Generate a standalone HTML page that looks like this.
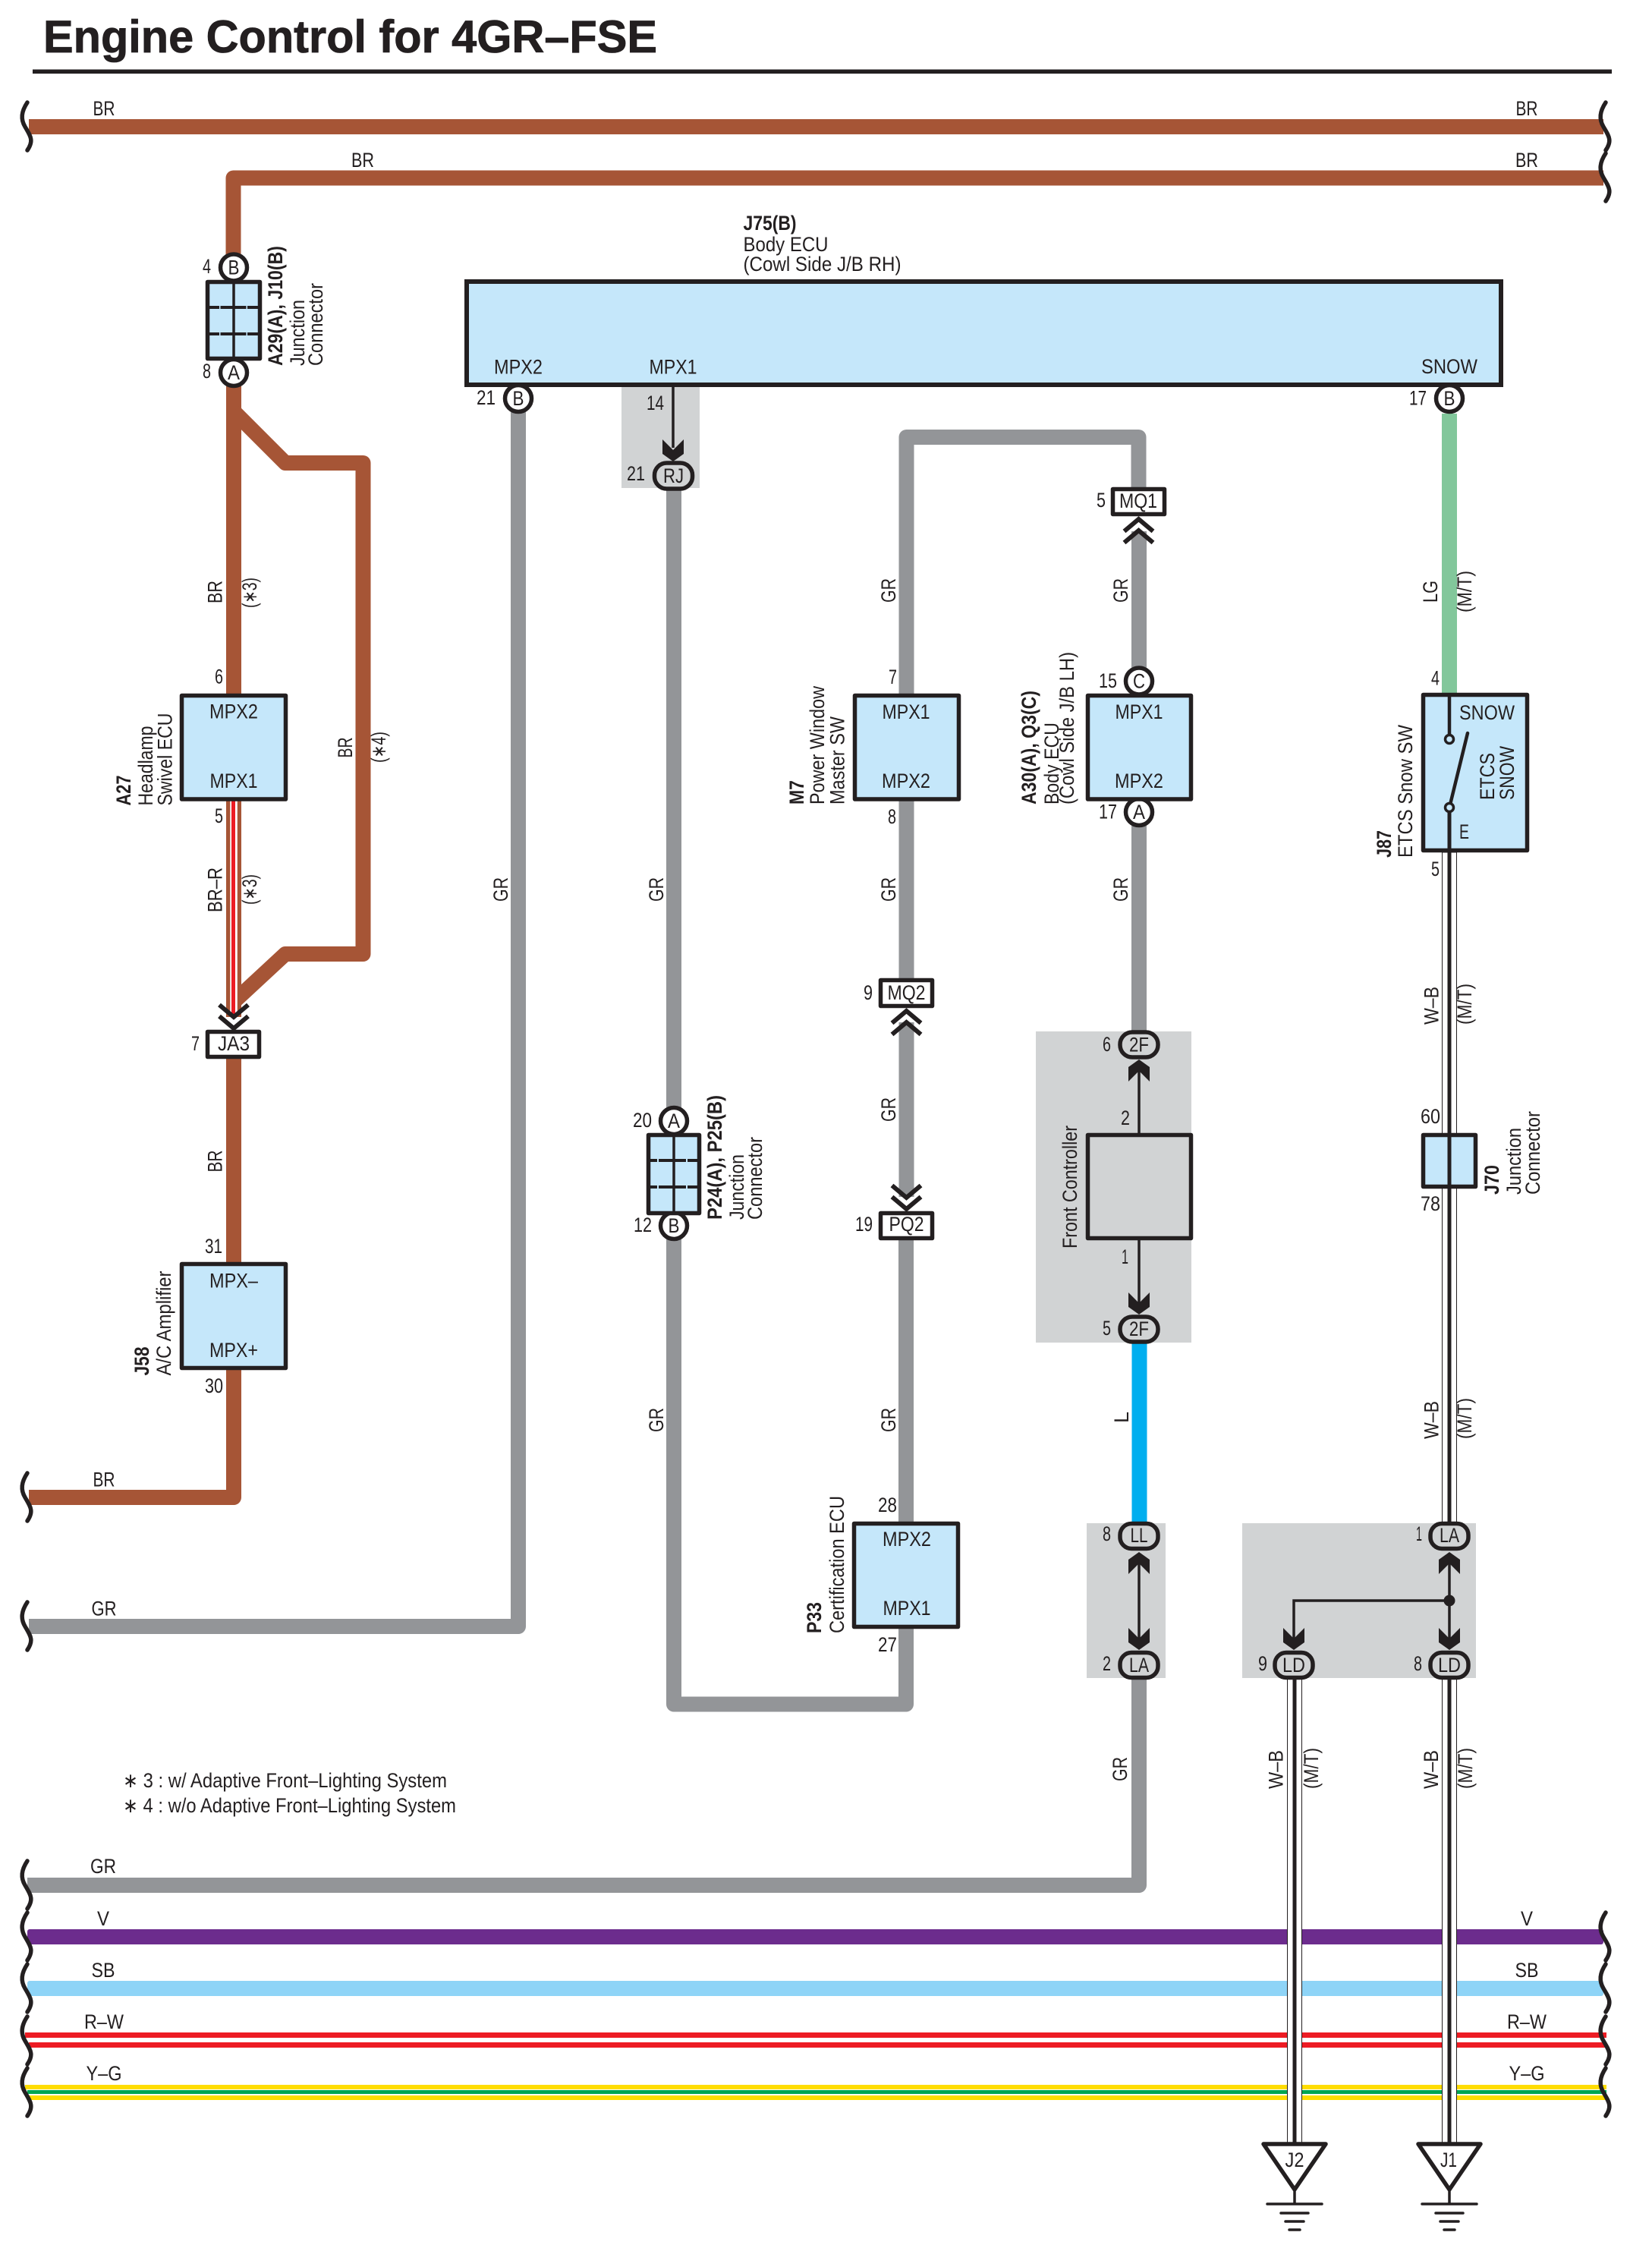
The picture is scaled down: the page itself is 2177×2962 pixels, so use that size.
<!DOCTYPE html>
<html lang="en">
<head>
<meta charset="utf-8">
<title>Engine Control for 4GR–FSE</title>
<style>
html,body{margin:0;padding:0;background:#fff}
svg{display:block}
text{font-family:"Liberation Sans",sans-serif;font-size:26.5px;fill:#231f20}
.b{font-weight:bold}
.m{text-anchor:middle}
.w{fill:none;stroke-width:20;stroke-linejoin:round}
.br{stroke:#a65536}.gr{stroke:#939598}
.box{fill:#c5e7fa;stroke:#231f20;stroke-width:5.5;stroke-linejoin:round}
.wb{fill:#fff;stroke:#231f20;stroke-width:5.5;stroke-linejoin:round}
.ov{fill:#d1d3d4;stroke:#231f20;stroke-width:5.5}
.k{fill:none;stroke:#231f20;stroke-linecap:round}
</style>
</head>
<body>
<svg xmlns="http://www.w3.org/2000/svg" width="2177" height="2962" viewBox="0 0 2177 2962">
<defs>
<path id="brk" d="M0 0C-8 12-9 22-3 32C4 44 9 50 0 63" fill="none" stroke="#231f20" stroke-width="5.5" stroke-linecap="round"/>
<polygon id="ad" points="-14,-29 0,-15 14,-29 14,-10 0,0 -14,-10" fill="#231f20"/>
<polygon id="au" points="-14,29 0,15 14,29 14,10 0,0 -14,10" fill="#231f20"/>
<g id="chd" fill="none" stroke="#231f20" stroke-width="6"><path d="M-19 -31L0 -15L19 -31"/><path d="M-19 -16L0 0L19 -16"/></g>
<g id="chu" fill="none" stroke="#231f20" stroke-width="6"><path d="M-19 31L0 15L19 31"/><path d="M-19 16L0 0L19 16"/></g>
<g id="gnd" stroke="#231f20" fill="none">
<polygon points="-41,2 41,2 0,62" fill="none" stroke-width="5.5" stroke-linejoin="round"/>
<path d="M0 62V81" stroke-width="3.5"/>
<path d="M-36 81H36M-18 93H18M-12 104H12M-7 115H7" stroke-width="3.5" stroke-linecap="round"/>
</g>
</defs>

<!-- Title -->
<text x="57" y="69" class="b" style="font-size:60px;stroke:#231f20;stroke-width:0.8" textLength="809" lengthAdjust="spacingAndGlyphs">Engine Control for 4GR–FSE</text>
<rect x="43" y="91.5" width="2081" height="5.5" fill="#231f20"/>

<!-- gray shaded areas -->
<rect x="819" y="510" width="103" height="133" fill="#d1d3d4"/>
<rect x="1365" y="1359" width="205" height="410" fill="#d1d3d4"/>
<rect x="1432" y="2007" width="104" height="204" fill="#d1d3d4"/>
<rect x="1637" y="2007" width="308" height="204" fill="#d1d3d4"/>

<!-- BR wires -->
<path class="w br" d="M38 167H2113"/>
<path class="w br" d="M2113 234.5H307.5V340"/>
<path class="w br" d="M308 480V914"/>
<path class="w br" d="M308 542L376 610H478.5V1257H376L308 1320"/>
<rect x="298" y="1050" width="20" height="290" fill="#a65536"/>
<rect x="303.3" y="1050" width="9.5" height="290" fill="#fff"/>
<rect x="305" y="1050" width="5" height="290" fill="#ed1c24"/>
<path class="w br" d="M308 1395V1663"/>
<path class="w br" d="M308 1805V1973H38"/>

<!-- GR wires -->
<path class="w gr" d="M683 540V2143H38"/>
<path class="w gr" d="M888 645V1480"/>
<path class="w gr" d="M1194 2146V2245.5H888V1630"/>
<path class="w gr" d="M1500.5 645V576H1194.5V914"/>
<path class="w gr" d="M1194.5 1055V1290"/>
<path class="w gr" d="M1194.5 1347V1577"/>
<path class="w gr" d="M1194 1634V2006"/>
<path class="w gr" d="M1501 700V900"/>
<path class="w gr" d="M1501 1070V1360"/>
<rect x="1491.5" y="1770" width="20" height="237" fill="#00aeef"/>
<path class="w gr" d="M1501 2212V2484H36"/>
<rect x="1900" y="545" width="20" height="369" fill="#82c79b"/>

<!-- Buses -->
<rect x="36" y="2542" width="2077" height="20" rx="3" fill="#6c2c8d"/>
<rect x="36" y="2610" width="2077" height="20" rx="3" fill="#8ed4f7"/>
<rect x="33" y="2678" width="2084" height="7" fill="#ed1c24"/>
<rect x="38" y="2691" width="2079" height="7" fill="#ed1c24"/>
<rect x="33" y="2747" width="2084" height="6" fill="#ffdd00"/>
<rect x="36" y="2754" width="2081" height="5" fill="#00a651"/>
<rect x="38" y="2761" width="2079" height="6" fill="#ffdd00"/>

<!-- break marks -->
<use href="#brk" x="36" y="135"/><use href="#brk" x="36" y="1941"/><use href="#brk" x="36" y="2111"/>
<use href="#brk" x="36" y="2452"/><use href="#brk" x="36" y="2520"/><use href="#brk" x="36" y="2588"/><use href="#brk" x="36" y="2657"/><use href="#brk" x="36" y="2725"/>
<use href="#brk" x="2116" y="135"/><use href="#brk" x="2116" y="202"/>
<use href="#brk" x="2116" y="2520"/><use href="#brk" x="2116" y="2588"/><use href="#brk" x="2116" y="2657"/><use href="#brk" x="2116" y="2725"/>

<!-- W-B wires -->
<g>
<rect x="1900.5" y="1123" width="19" height="890" fill="#fff" stroke="#231f20" stroke-width="1"/>
<rect x="1907.5" y="1123" width="5" height="890" fill="#231f20"/>
<rect x="1900.5" y="2205" width="19" height="618" fill="#fff" stroke="#231f20" stroke-width="1"/>
<rect x="1907.5" y="2205" width="5" height="618" fill="#231f20"/>
<rect x="1696.5" y="2205" width="19" height="618" fill="#fff" stroke="#231f20" stroke-width="1"/>
<rect x="1703.5" y="2205" width="5" height="618" fill="#231f20"/>
</g>

<!-- Grounds -->
<use href="#gnd" x="1706" y="2823"/>
<use href="#gnd" x="1910" y="2823"/>
<text x="1706" y="2855" class="m" textLength="25" lengthAdjust="spacingAndGlyphs">J2</text>
<text x="1909" y="2855" class="m" textLength="22" lengthAdjust="spacingAndGlyphs">J1</text>

<!-- ECU J75 -->
<rect x="615" y="371" width="1363" height="136" fill="#c5e7fa" stroke="#231f20" stroke-width="6"/>
<text x="683" y="492.5" class="m" textLength="64" lengthAdjust="spacingAndGlyphs">MPX2</text>
<text x="887" y="492.5" class="m" textLength="63" lengthAdjust="spacingAndGlyphs">MPX1</text>
<text x="1910" y="492" class="m" textLength="74" lengthAdjust="spacingAndGlyphs">SNOW</text>
<text x="979.5" y="303" class="b" textLength="70" lengthAdjust="spacingAndGlyphs">J75(B)</text>
<text x="979.5" y="331" textLength="112" lengthAdjust="spacingAndGlyphs">Body ECU</text>
<text x="979.5" y="357" textLength="208" lengthAdjust="spacingAndGlyphs">(Cowl Side J/B RH)</text>

<!-- Circle connectors -->
<g fill="#fff" stroke="#231f20" stroke-width="5.5">
<circle cx="308" cy="352.5" r="17.5"/><circle cx="308" cy="491" r="17.5"/>
<circle cx="683" cy="525" r="17.5"/><circle cx="1910" cy="525" r="17.5"/>
<circle cx="888" cy="1477" r="17.5"/><circle cx="888" cy="1615" r="17.5"/>
<circle cx="1501" cy="897.5" r="17.5"/><circle cx="1501" cy="1070" r="17.5"/>
</g>
<text x="308" y="361.5" class="m" textLength="15" lengthAdjust="spacingAndGlyphs">B</text><text x="308" y="500" class="m" textLength="16" lengthAdjust="spacingAndGlyphs">A</text>
<text x="683" y="534" class="m" textLength="15" lengthAdjust="spacingAndGlyphs">B</text><text x="1910" y="534" class="m" textLength="15" lengthAdjust="spacingAndGlyphs">B</text>
<text x="888" y="1486" class="m" textLength="16" lengthAdjust="spacingAndGlyphs">A</text><text x="888" y="1624" class="m" textLength="15" lengthAdjust="spacingAndGlyphs">B</text>
<text x="1501" y="906.5" class="m" textLength="16" lengthAdjust="spacingAndGlyphs">C</text><text x="1501" y="1079" class="m" textLength="16" lengthAdjust="spacingAndGlyphs">A</text>

<!-- Junction P24/A29 -->
<rect x="273.5" y="371.5" width="69" height="101" class="box"/>
<path d="M308 371V473" stroke="#231f20" stroke-width="3.5"/>
<path d="M273 405H344M273 440H344" stroke="#231f20" stroke-width="4" stroke-dasharray="16 1.5 34 1.5 20"/>
<rect x="854.5" y="1495.5" width="67" height="103" class="box"/>
<path d="M888 1495V1600" stroke="#231f20" stroke-width="3.5"/>
<path d="M854 1529H922M854 1564H922" stroke="#231f20" stroke-width="4" stroke-dasharray="12 2 36 2 20"/>

<!-- Boxes -->
<rect x="239.5" y="916.5" width="137" height="136.5" class="box"/>
<rect x="239.5" y="1665.5" width="137" height="137" class="box"/>
<rect x="1126.5" y="916.5" width="137" height="136.5" class="box"/>
<rect x="1433.5" y="916.5" width="136" height="136.5" class="box"/>
<rect x="1125.5" y="2007.5" width="137" height="136" class="box"/>
<rect x="1433.5" y="1495.5" width="136" height="136" fill="#d1d3d4" stroke="#231f20" stroke-width="5.5" stroke-linejoin="round"/>
<rect x="1875.5" y="915.5" width="137" height="205" class="box"/>
<rect x="1875.5" y="1495.5" width="69" height="68" class="box"/>
<path d="M1910 1493V1566" stroke="#231f20" stroke-width="5"/>
<text x="308" y="946.5" class="m" textLength="64" lengthAdjust="spacingAndGlyphs">MPX2</text>
<text x="308" y="1038" class="m" textLength="63" lengthAdjust="spacingAndGlyphs">MPX1</text>
<text x="308" y="1696.5" class="m" textLength="64" lengthAdjust="spacingAndGlyphs">MPX–</text>
<text x="308" y="1788" class="m" textLength="64" lengthAdjust="spacingAndGlyphs">MPX+</text>
<text x="1194" y="947" class="m" textLength="63" lengthAdjust="spacingAndGlyphs">MPX1</text>
<text x="1194" y="1038" class="m" textLength="64" lengthAdjust="spacingAndGlyphs">MPX2</text>
<text x="1501" y="947" class="m" textLength="63" lengthAdjust="spacingAndGlyphs">MPX1</text>
<text x="1501" y="1038" class="m" textLength="64" lengthAdjust="spacingAndGlyphs">MPX2</text>
<text x="1195" y="2037" class="m" textLength="64" lengthAdjust="spacingAndGlyphs">MPX2</text>
<text x="1195" y="2128" class="m" textLength="63" lengthAdjust="spacingAndGlyphs">MPX1</text>

<!-- Switch -->
<path d="M1910 916V968" stroke="#231f20" stroke-width="4.5"/>
<path d="M1910 1070V1123" stroke="#231f20" stroke-width="5"/>
<path d="M1934 966L1911 1060" stroke="#231f20" stroke-width="4.5" stroke-linecap="round"/>
<circle cx="1910" cy="974" r="5.5" fill="#c5e7fa" stroke="#231f20" stroke-width="3.5"/>
<circle cx="1910" cy="1064" r="5.5" fill="#c5e7fa" stroke="#231f20" stroke-width="3.5"/>
<text x="1959.5" y="948" class="m" textLength="73" lengthAdjust="spacingAndGlyphs">SNOW</text>
<text x="1923" y="1105" textLength="13" lengthAdjust="spacingAndGlyphs">E</text>
<text transform="translate(1969,1054) rotate(-90)" textLength="62" lengthAdjust="spacingAndGlyphs">ETCS</text>
<text transform="translate(1995,1054) rotate(-90)" textLength="71" lengthAdjust="spacingAndGlyphs">SNOW</text>

<!-- Rectangular connectors -->
<rect x="273.5" y="1359.5" width="68" height="33" class="wb"/>
<rect x="1466.5" y="644.5" width="68" height="33" class="wb"/>
<rect x="1160.5" y="1291.5" width="68" height="34" class="wb"/>
<rect x="1160.5" y="1598.5" width="68" height="33" class="wb"/>
<text x="308" y="1384" class="m" textLength="42" lengthAdjust="spacingAndGlyphs">JA3</text>
<text x="1500" y="669" class="m" textLength="50" lengthAdjust="spacingAndGlyphs">MQ1</text>
<text x="1194.5" y="1317" class="m" textLength="50" lengthAdjust="spacingAndGlyphs">MQ2</text>
<text x="1194.5" y="1622" class="m" textLength="46" lengthAdjust="spacingAndGlyphs">PQ2</text>
<use href="#chd" x="308" y="1355"/>
<use href="#chu" x="1500.5" y="684"/>
<use href="#chu" x="1194.5" y="1332"/>
<use href="#chd" x="1194.5" y="1593"/>

<!-- Thin inline connections -->
<g stroke="#231f20" stroke-width="3.5" fill="none">
<path d="M887 510V590"/>
<path d="M1501 1410V1494"/>
<path d="M1501 1633V1720"/>
<path d="M1501 2060V2160"/>
<path d="M1910 2060V2160"/>
<path d="M1705 2160V2109H1910"/>
</g>
<ellipse cx="1910" cy="2109" rx="7.5" ry="7.5" fill="#231f20"/>
<use href="#ad" x="887" y="608"/>
<use href="#au" x="1501" y="1396"/>
<use href="#ad" x="1501" y="1732"/>
<use href="#au" x="1501" y="2045"/>
<use href="#ad" x="1501" y="2174"/>
<use href="#au" x="1910" y="2045"/>
<use href="#ad" x="1705" y="2174"/>
<use href="#ad" x="1910" y="2174"/>

<!-- Oval connectors -->
<rect x="862.5" y="610" width="50" height="34" rx="16" class="ov"/>
<rect x="1476" y="1360" width="50" height="33" rx="16" class="ov"/>
<rect x="1476" y="1735" width="50" height="33" rx="16" class="ov"/>
<rect x="1476" y="2007.5" width="50" height="33" rx="15" class="ov"/>
<rect x="1476" y="2177.5" width="50" height="33" rx="15" class="ov"/>
<rect x="1885" y="2007.5" width="50" height="33" rx="15" class="ov"/>
<rect x="1680" y="2177.5" width="50" height="33" rx="15" class="ov"/>
<rect x="1885" y="2177.5" width="50" height="33" rx="15" class="ov"/>
<text x="887.5" y="636" class="m" textLength="27" lengthAdjust="spacingAndGlyphs">RJ</text>
<text x="1501" y="1385.5" class="m" textLength="26" lengthAdjust="spacingAndGlyphs">2F</text>
<text x="1501" y="1760" class="m" textLength="26" lengthAdjust="spacingAndGlyphs">2F</text>
<text x="1501" y="2032" class="m" textLength="23" lengthAdjust="spacingAndGlyphs">LL</text>
<text x="1501" y="2203" class="m" textLength="26" lengthAdjust="spacingAndGlyphs">LA</text>
<text x="1910" y="2032" class="m" textLength="26" lengthAdjust="spacingAndGlyphs">LA</text>
<text x="1705" y="2203" class="m" textLength="30" lengthAdjust="spacingAndGlyphs">LD</text>
<text x="1910" y="2203" class="m" textLength="30" lengthAdjust="spacingAndGlyphs">LD</text>

<!-- Pin numbers -->
<g>
<text x="267" y="360" textLength="11" lengthAdjust="spacingAndGlyphs">4</text>
<text x="267" y="498" textLength="11" lengthAdjust="spacingAndGlyphs">8</text>
<text x="628" y="533" textLength="25" lengthAdjust="spacingAndGlyphs">21</text>
<text x="852" y="540" textLength="23" lengthAdjust="spacingAndGlyphs">14</text>
<text x="826" y="633" textLength="24" lengthAdjust="spacingAndGlyphs">21</text>
<text x="1445" y="668" textLength="12" lengthAdjust="spacingAndGlyphs">5</text>
<text x="1857" y="533.5" textLength="23" lengthAdjust="spacingAndGlyphs">17</text>
<text x="1886" y="902.5" textLength="11" lengthAdjust="spacingAndGlyphs">4</text>
<text x="1886" y="1154" textLength="11" lengthAdjust="spacingAndGlyphs">5</text>
<text x="283" y="900.5" textLength="11" lengthAdjust="spacingAndGlyphs">6</text>
<text x="283" y="1084" textLength="11" lengthAdjust="spacingAndGlyphs">5</text>
<text x="252" y="1384" textLength="11" lengthAdjust="spacingAndGlyphs">7</text>
<text x="270" y="1651" textLength="23" lengthAdjust="spacingAndGlyphs">31</text>
<text x="270" y="1835" textLength="24" lengthAdjust="spacingAndGlyphs">30</text>
<text x="1171" y="901" textLength="11" lengthAdjust="spacingAndGlyphs">7</text>
<text x="1170" y="1085" textLength="11" lengthAdjust="spacingAndGlyphs">8</text>
<text x="1138" y="1317" textLength="12" lengthAdjust="spacingAndGlyphs">9</text>
<text x="1127" y="1622" textLength="23" lengthAdjust="spacingAndGlyphs">19</text>
<text x="1157" y="1992" textLength="25" lengthAdjust="spacingAndGlyphs">28</text>
<text x="1157" y="2176" textLength="25" lengthAdjust="spacingAndGlyphs">27</text>
<text x="1448" y="906" textLength="24" lengthAdjust="spacingAndGlyphs">15</text>
<text x="1448" y="1078.5" textLength="24" lengthAdjust="spacingAndGlyphs">17</text>
<text x="1453" y="1385" textLength="11" lengthAdjust="spacingAndGlyphs">6</text>
<text x="1477" y="1482" textLength="12" lengthAdjust="spacingAndGlyphs">2</text>
<text x="1478" y="1665" textLength="9" lengthAdjust="spacingAndGlyphs">1</text>
<text x="1453" y="1759" textLength="11" lengthAdjust="spacingAndGlyphs">5</text>
<text x="1453" y="2030" textLength="11" lengthAdjust="spacingAndGlyphs">8</text>
<text x="1453" y="2201" textLength="11" lengthAdjust="spacingAndGlyphs">2</text>
<text x="1866" y="2030" textLength="8" lengthAdjust="spacingAndGlyphs">1</text>
<text x="1658" y="2201" textLength="12" lengthAdjust="spacingAndGlyphs">9</text>
<text x="1863" y="2201" textLength="11" lengthAdjust="spacingAndGlyphs">8</text>
<text x="834" y="1485" textLength="25" lengthAdjust="spacingAndGlyphs">20</text>
<text x="835" y="1623" textLength="24" lengthAdjust="spacingAndGlyphs">12</text>
<text x="1872" y="1480" textLength="26" lengthAdjust="spacingAndGlyphs">60</text>
<text x="1872" y="1595" textLength="26" lengthAdjust="spacingAndGlyphs">78</text>
</g>

<!-- Horizontal wire labels -->
<g>
<text x="137" y="152" class="m" textLength="29" lengthAdjust="spacingAndGlyphs">BR</text>
<text x="478" y="220" class="m" textLength="30" lengthAdjust="spacingAndGlyphs">BR</text>
<text x="2012" y="152" class="m" textLength="29" lengthAdjust="spacingAndGlyphs">BR</text>
<text x="2012" y="220" class="m" textLength="30" lengthAdjust="spacingAndGlyphs">BR</text>
<text x="137" y="1958.5" class="m" textLength="29" lengthAdjust="spacingAndGlyphs">BR</text>
<text x="137" y="2128.5" class="m" textLength="33" lengthAdjust="spacingAndGlyphs">GR</text>
<text x="136" y="2468" class="m" textLength="34" lengthAdjust="spacingAndGlyphs">GR</text>
<text x="136" y="2537" class="m" textLength="16" lengthAdjust="spacingAndGlyphs">V</text>
<text x="136" y="2605" class="m" textLength="31" lengthAdjust="spacingAndGlyphs">SB</text>
<text x="137" y="2673" class="m" textLength="52" lengthAdjust="spacingAndGlyphs">R–W</text>
<text x="137" y="2741" class="m" textLength="47" lengthAdjust="spacingAndGlyphs">Y–G</text>
<text x="2012" y="2537" class="m" textLength="16" lengthAdjust="spacingAndGlyphs">V</text>
<text x="2012" y="2605" class="m" textLength="31" lengthAdjust="spacingAndGlyphs">SB</text>
<text x="2012" y="2673" class="m" textLength="52" lengthAdjust="spacingAndGlyphs">R–W</text>
<text x="2012" y="2741" class="m" textLength="47" lengthAdjust="spacingAndGlyphs">Y–G</text>
</g>

<!-- Notes -->
<text x="162" y="2355" textLength="427" lengthAdjust="spacingAndGlyphs">∗ 3 : w/ Adaptive Front–Lighting System</text>
<text x="162" y="2388" textLength="439" lengthAdjust="spacingAndGlyphs">∗ 4 : w/o Adaptive Front–Lighting System</text>

<!-- Rotated wire labels -->
<g>
<text transform="translate(292.5,795) rotate(-90)" textLength="30" lengthAdjust="spacingAndGlyphs">BR</text>
<text transform="translate(338,801) rotate(-90)" textLength="40" lengthAdjust="spacingAndGlyphs">(∗3)</text>
<text transform="translate(292.5,1202) rotate(-90)" textLength="59" lengthAdjust="spacingAndGlyphs">BR–R</text>
<text transform="translate(338,1192) rotate(-90)" textLength="40" lengthAdjust="spacingAndGlyphs">(∗3)</text>
<text transform="translate(464,998.5) rotate(-90)" textLength="27" lengthAdjust="spacingAndGlyphs">BR</text>
<text transform="translate(508,1005) rotate(-90)" textLength="41" lengthAdjust="spacingAndGlyphs">(∗4)</text>
<text transform="translate(292.5,1544.5) rotate(-90)" textLength="29" lengthAdjust="spacingAndGlyphs">BR</text>
<text transform="translate(669,1188) rotate(-90)" textLength="32" lengthAdjust="spacingAndGlyphs">GR</text>
<text transform="translate(874,1188) rotate(-90)" textLength="32" lengthAdjust="spacingAndGlyphs">GR</text>
<text transform="translate(874,1887) rotate(-90)" textLength="32" lengthAdjust="spacingAndGlyphs">GR</text>
<text transform="translate(1180,794) rotate(-90)" textLength="32" lengthAdjust="spacingAndGlyphs">GR</text>
<text transform="translate(1180,1188) rotate(-90)" textLength="32" lengthAdjust="spacingAndGlyphs">GR</text>
<text transform="translate(1180,1478) rotate(-90)" textLength="32" lengthAdjust="spacingAndGlyphs">GR</text>
<text transform="translate(1180,1887) rotate(-90)" textLength="32" lengthAdjust="spacingAndGlyphs">GR</text>
<text transform="translate(1486,794) rotate(-90)" textLength="32" lengthAdjust="spacingAndGlyphs">GR</text>
<text transform="translate(1486,1188) rotate(-90)" textLength="32" lengthAdjust="spacingAndGlyphs">GR</text>
<text transform="translate(1485,2347) rotate(-90)" textLength="32" lengthAdjust="spacingAndGlyphs">GR</text>
<text transform="translate(1487,1875) rotate(-90)" textLength="15" lengthAdjust="spacingAndGlyphs">L</text>
<text transform="translate(1894,794) rotate(-90)" textLength="29" lengthAdjust="spacingAndGlyphs">LG</text>
<text transform="translate(1939,807) rotate(-90)" textLength="55" lengthAdjust="spacingAndGlyphs">(M/T)</text>
<text transform="translate(1895.5,1350) rotate(-90)" textLength="50" lengthAdjust="spacingAndGlyphs">W–B</text>
<text transform="translate(1939,1350) rotate(-90)" textLength="54" lengthAdjust="spacingAndGlyphs">(M/T)</text>
<text transform="translate(1895.5,1896) rotate(-90)" textLength="50" lengthAdjust="spacingAndGlyphs">W–B</text>
<text transform="translate(1939,1896) rotate(-90)" textLength="54" lengthAdjust="spacingAndGlyphs">(M/T)</text>
<text transform="translate(1690.5,2357) rotate(-90)" textLength="51" lengthAdjust="spacingAndGlyphs">W–B</text>
<text transform="translate(1737,2357) rotate(-90)" textLength="54" lengthAdjust="spacingAndGlyphs">(M/T)</text>
<text transform="translate(1895,2357) rotate(-90)" textLength="51" lengthAdjust="spacingAndGlyphs">W–B</text>
<text transform="translate(1940,2357) rotate(-90)" textLength="54" lengthAdjust="spacingAndGlyphs">(M/T)</text>
</g>

<!-- Rotated component labels -->
<g>
<text class="b" transform="translate(372,482) rotate(-90)" textLength="158" lengthAdjust="spacingAndGlyphs">A29(A), J10(B)</text>
<text transform="translate(401,482) rotate(-90)" textLength="87" lengthAdjust="spacingAndGlyphs">Junction</text>
<text transform="translate(425,482) rotate(-90)" textLength="109" lengthAdjust="spacingAndGlyphs">Connector</text>
<text class="b" transform="translate(172,1061.5) rotate(-90)" textLength="40" lengthAdjust="spacingAndGlyphs">A27</text>
<text transform="translate(201,1061.5) rotate(-90)" textLength="105" lengthAdjust="spacingAndGlyphs">Headlamp</text>
<text transform="translate(226.5,1061.5) rotate(-90)" textLength="122" lengthAdjust="spacingAndGlyphs">Swivel ECU</text>
<text class="b" transform="translate(196,1812.5) rotate(-90)" textLength="38" lengthAdjust="spacingAndGlyphs">J58</text>
<text transform="translate(225,1812.5) rotate(-90)" textLength="138" lengthAdjust="spacingAndGlyphs">A/C Amplifier</text>
<text class="b" transform="translate(951,1607) rotate(-90)" textLength="164" lengthAdjust="spacingAndGlyphs">P24(A), P25(B)</text>
<text transform="translate(980,1607) rotate(-90)" textLength="86" lengthAdjust="spacingAndGlyphs">Junction</text>
<text transform="translate(1004,1607) rotate(-90)" textLength="109" lengthAdjust="spacingAndGlyphs">Connector</text>
<text class="b" transform="translate(1059,1060) rotate(-90)" textLength="32" lengthAdjust="spacingAndGlyphs">M7</text>
<text transform="translate(1086,1060) rotate(-90)" textLength="156" lengthAdjust="spacingAndGlyphs">Power Window</text>
<text transform="translate(1112.5,1060) rotate(-90)" textLength="116" lengthAdjust="spacingAndGlyphs">Master SW</text>
<text class="b" transform="translate(1365,1060) rotate(-90)" textLength="150" lengthAdjust="spacingAndGlyphs">A30(A), Q3(C)</text>
<text transform="translate(1395,1060) rotate(-90)" textLength="108" lengthAdjust="spacingAndGlyphs">Body ECU</text>
<text transform="translate(1415,1060) rotate(-90)" textLength="201" lengthAdjust="spacingAndGlyphs">(Cowl Side J/B LH)</text>
<text transform="translate(1419,1645) rotate(-90)" textLength="162" lengthAdjust="spacingAndGlyphs">Front Controller</text>
<text class="b" transform="translate(1082,2152) rotate(-90)" textLength="41" lengthAdjust="spacingAndGlyphs">P33</text>
<text transform="translate(1112,2152) rotate(-90)" textLength="181" lengthAdjust="spacingAndGlyphs">Certification ECU</text>
<text class="b" transform="translate(1833,1130) rotate(-90)" textLength="36" lengthAdjust="spacingAndGlyphs">J87</text>
<text transform="translate(1861,1130) rotate(-90)" textLength="175" lengthAdjust="spacingAndGlyphs">ETCS Snow SW</text>
<text class="b" transform="translate(1975,1574) rotate(-90)" textLength="39" lengthAdjust="spacingAndGlyphs">J70</text>
<text transform="translate(2004,1574) rotate(-90)" textLength="88" lengthAdjust="spacingAndGlyphs">Junction</text>
<text transform="translate(2029,1574) rotate(-90)" textLength="110" lengthAdjust="spacingAndGlyphs">Connector</text>
</g>
</svg>
</body>
</html>
